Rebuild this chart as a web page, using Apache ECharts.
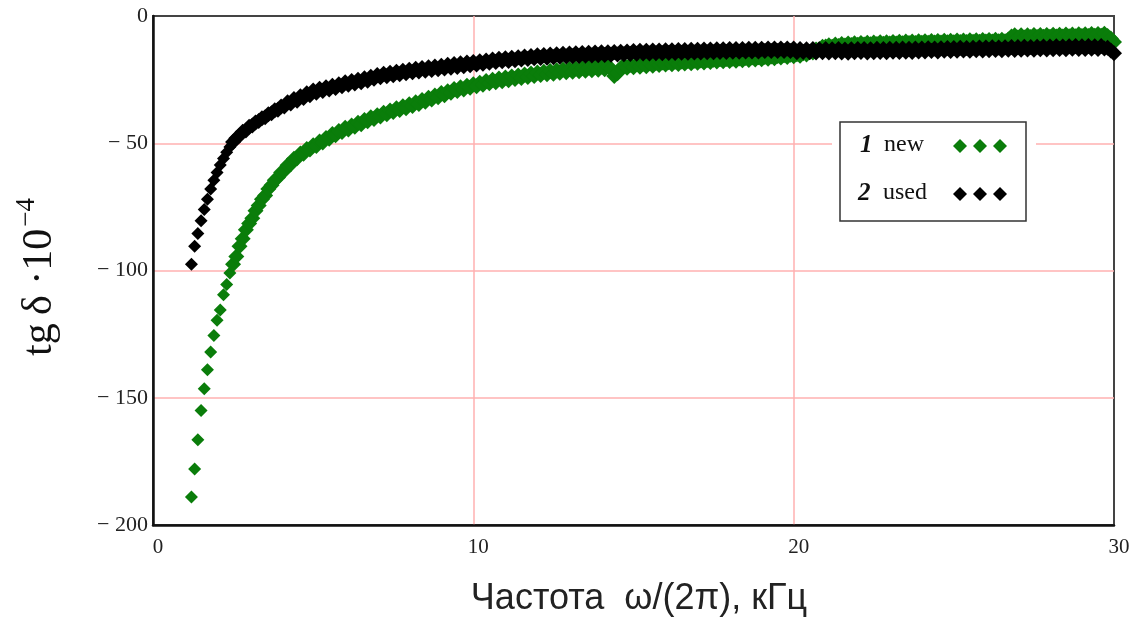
<!DOCTYPE html>
<html>
<head>
<meta charset="utf-8">
<script src="https://cdn.jsdelivr.net/npm/echarts@6/dist/echarts.min.js"></script>
<style>
  html, body { margin: 0; padding: 0; background: #fff; }
  #chart { width: 1141px; height: 619px; }
</style>
</head>
<body>
<div id="chart"></div>
<script>
'use strict';

// frequency, kHz
var freq = [
  1.2, 1.3, 1.4, 1.5, 1.6, 1.7, 1.8, 1.9, 2.0,
  2.1, 2.2, 2.3, 2.4, 2.5, 2.6, 2.7, 2.8, 2.9, 3.0,
  3.1, 3.2, 3.3, 3.4, 3.5, 3.6, 3.7, 3.8, 3.9, 4.0,
  4.1, 4.2, 4.3, 4.4, 4.5, 4.6, 4.7, 4.8, 4.9, 5.0,
  5.1, 5.2, 5.3, 5.4, 5.5, 5.6, 5.7, 5.8, 5.9, 6.0,
  6.1, 6.2, 6.3, 6.4, 6.5, 6.6, 6.7, 6.8, 6.9, 7.0,
  7.1, 7.2, 7.3, 7.4, 7.5, 7.6, 7.7, 7.8, 7.9, 8.0,
  8.1, 8.2, 8.3, 8.4, 8.5, 8.6, 8.7, 8.8, 8.9, 9.0,
  9.1, 9.2, 9.3, 9.4, 9.5, 9.6, 9.7, 9.8, 9.9, 10.0,
  10.1, 10.2, 10.3, 10.4, 10.5, 10.6, 10.7, 10.8, 10.9, 11.0,
  11.1, 11.2, 11.3, 11.4, 11.5, 11.6, 11.7, 11.8, 11.9, 12.0,
  12.1, 12.2, 12.3, 12.4, 12.5, 12.6, 12.7, 12.8, 12.9, 13.0,
  13.1, 13.2, 13.3, 13.4, 13.5, 13.6, 13.7, 13.8, 13.9, 14.0,
  14.1, 14.2, 14.3, 14.4, 14.5, 14.6, 14.7, 14.8, 14.9, 15.0,
  15.1, 15.2, 15.3, 15.4, 15.5, 15.6, 15.7, 15.8, 15.9, 16.0,
  16.1, 16.2, 16.3, 16.4, 16.5, 16.6, 16.7, 16.8, 16.9, 17.0,
  17.1, 17.2, 17.3, 17.4, 17.5, 17.6, 17.7, 17.8, 17.9, 18.0,
  18.1, 18.2, 18.3, 18.4, 18.5, 18.6, 18.7, 18.8, 18.9, 19.0,
  19.1, 19.2, 19.3, 19.4, 19.5, 19.6, 19.7, 19.8, 19.9, 20.0,
  20.1, 20.2, 20.3, 20.4, 20.5, 20.6, 20.7, 20.8, 20.9, 21.0,
  21.1, 21.2, 21.3, 21.4, 21.5, 21.6, 21.7, 21.8, 21.9, 22.0,
  22.1, 22.2, 22.3, 22.4, 22.5, 22.6, 22.7, 22.8, 22.9, 23.0,
  23.1, 23.2, 23.3, 23.4, 23.5, 23.6, 23.7, 23.8, 23.9, 24.0,
  24.1, 24.2, 24.3, 24.4, 24.5, 24.6, 24.7, 24.8, 24.9, 25.0,
  25.1, 25.2, 25.3, 25.4, 25.5, 25.6, 25.7, 25.8, 25.9, 26.0,
  26.1, 26.2, 26.3, 26.4, 26.5, 26.6, 26.7, 26.8, 26.9, 27.0,
  27.1, 27.2, 27.3, 27.4, 27.5, 27.6, 27.7, 27.8, 27.9, 28.0,
  28.1, 28.2, 28.3, 28.4, 28.5, 28.6, 28.7, 28.8, 28.9, 29.0,
  29.1, 29.2, 29.3, 29.4, 29.5, 29.6, 29.7, 29.8, 29.9, 30.0
];

// 1 new
var tgNew = [
  -189, -178, -166.5, -155, -146.5, -139, -132, -125.5, -119.5,
  -115.5, -109.5, -105.5, -101, -97.5, -94.5, -90.5, -87.5, -84, -81.5,
  -79.5, -76.5, -74.5, -72, -70.5, -68, -66.5, -64.5, -63.5, -61.5,
  -60.8, -58.6, -58.3, -56.1, -55.9, -54.0, -54.1, -52.3, -52.5, -50.8,
  -51.1, -49.3, -49.7, -47.9, -48.2, -46.4, -46.9, -45.2, -45.6, -43.9,
  -44.6, -43.0, -43.5, -41.9, -42.5, -40.9, -41.4, -39.8, -40.5, -39.0,
  -39.5, -38.0, -38.6, -37.1, -37.7, -36.2, -36.9, -35.5, -36.2, -34.7,
  -35.4, -33.9, -34.6, -33.0, -33.7, -32.1, -32.8, -31.2, -31.9, -30.3,
  -31.1, -29.6, -30.2, -28.7, -29.5, -28.0, -28.9, -27.4, -28.2, -26.8,
  -27.6, -26.2, -27.0, -25.5, -26.4, -25.0, -26.0, -24.6, -25.6, -24.2,
  -25.2, -23.8, -24.8, -23.4, -24.4, -23.0, -24.0, -22.6, -23.6, -22.2,
  -23.2, -21.9, -22.9, -21.6, -22.7, -21.3, -22.3, -21.0, -22.1, -20.8,
  -21.9, -20.6, -21.7, -20.4, -21.5, -20.2, -21.3, -20.0, -21.1, -19.8,
  -20.9, -19.7, -20.7, -23.6, -22.5, -20.5, -19.4, -20.3, -19.2, -20.1,
  -19.0, -19.9, -18.8, -19.7, -18.6, -19.5, -18.5, -19.3, -18.3, -19.1,
  -18.2, -19.0, -18.0, -18.9, -17.9, -18.7, -17.7, -18.6, -17.6, -18.4,
  -17.5, -18.3, -17.3, -18.1, -17.2, -17.9, -17.0, -17.8, -16.9, -17.7,
  -16.8, -17.6, -16.7, -17.4, -16.5, -17.3, -16.3, -17.1, -16.2, -17.0,
  -16.1, -16.8, -15.9, -16.6, -15.7, -16.3, -15.4, -16.1, -15.2, -15.8,
  -15.0, -15.6, -14.6, -15.1, -14.1, -14.3, -13.2, -13.1, -12.1, -12.0,
  -11.5, -12.1, -11.2, -11.8, -11.0, -11.6, -10.8, -11.4, -10.7, -11.3,
  -10.6, -11.2, -10.5, -11.1, -10.4, -11.0, -10.3, -10.9, -10.3, -10.8,
  -10.2, -10.8, -10.1, -10.7, -10.0, -10.6, -10.0, -10.6, -9.9, -10.5,
  -9.9, -10.5, -9.8, -10.4, -9.8, -10.4, -9.7, -10.3, -9.7, -10.3,
  -9.6, -10.2, -9.6, -10.2, -9.5, -10.1, -9.5, -10.1, -9.4, -10.0,
  -9.4, -10.0, -9.3, -9.9, -9.3, -9.9, -9.2, -8.1, -7.6, -8.4,
  -7.6, -8.4, -7.6, -8.3, -7.5, -8.3, -7.5, -8.2, -7.5, -8.2,
  -7.4, -8.1, -7.4, -8.1, -7.3, -8.0, -7.3, -8.0, -7.2, -7.9,
  -7.2, -7.9, -7.1, -7.8, -7.1, -7.8, -7.0, -7.9, -8.8, -10.2
];

// 2 used
var tgUsed = [
  -97.5, -90.5, -85.5, -80.5, -76, -72, -68, -64.5, -61.5,
  -58.5, -56, -53.5, -51.5, -49.5, -48, -47, -45.5, -45, -43.5,
  -43, -41.8, -41.3, -40.2, -39.8, -38.6, -38.2, -37, -36.8, -35.6,
  -35.6, -33.9, -34.4, -32.6, -33.3, -31.5, -32.2, -30.4, -31.1, -29.3,
  -30.2, -28.6, -29.5, -28.0, -28.9, -27.4, -28.3, -26.8, -27.6, -26.0,
  -27.0, -25.5, -26.5, -25.0, -26.0, -24.5, -25.4, -23.9, -24.7, -23.2,
  -24.1, -22.7, -23.7, -22.3, -23.3, -21.9, -22.9, -21.5, -22.5, -21.1,
  -22.1, -20.7, -21.8, -20.4, -21.5, -20.1, -21.2, -19.8, -20.9, -19.5,
  -20.6, -19.2, -20.3, -18.9, -20.0, -18.6, -19.7, -18.3, -19.4, -18.1,
  -19.1, -17.8, -18.8, -17.5, -18.4, -17.1, -18.1, -16.8, -17.8, -16.6,
  -17.7, -16.4, -17.4, -16.2, -17.1, -15.9, -16.9, -15.7, -16.6, -15.4,
  -16.5, -15.3, -16.4, -15.1, -16.2, -15.0, -16.0, -14.8, -15.9, -14.7,
  -15.8, -14.6, -15.7, -14.5, -15.6, -14.4, -15.5, -14.3, -15.4, -14.2,
  -15.3, -14.2, -15.2, -14.1, -15.1, -14.0, -15.0, -13.9, -14.9, -13.8,
  -14.8, -13.7, -14.7, -13.7, -14.7, -13.6, -14.6, -13.6, -14.6, -13.5,
  -14.5, -13.5, -14.5, -13.4, -14.4, -13.4, -14.4, -13.3, -14.3, -13.3,
  -14.3, -13.2, -14.2, -13.2, -14.2, -13.1, -14.1, -13.1, -14.1, -13.0,
  -14.0, -13.0, -14.0, -13.0, -13.9, -12.9, -13.9, -12.9, -13.9, -12.9,
  -13.8, -12.8, -13.8, -12.8, -13.8, -12.8, -13.8, -12.8, -13.8, -12.8,
  -14.2, -13.0, -14.1, -13.1, -14.2, -13.0, -14.3, -13.1, -14.2, -13.0,
  -14.3, -13.1, -14.2, -13.0, -14.3, -13.2, -14.4, -13.1, -14.2, -13.0,
  -14.1, -13.0, -14.3, -13.1, -14.2, -12.9, -14.1, -13.0, -14.2, -12.9,
  -14.0, -12.9, -14.1, -12.8, -14.0, -12.9, -14.1, -12.8, -13.9, -12.8,
  -13.9, -12.7, -13.8, -12.8, -13.9, -12.7, -13.7, -12.6, -13.8, -12.6,
  -13.7, -12.5, -13.6, -12.6, -13.7, -12.5, -13.5, -12.4, -13.6, -12.4,
  -13.5, -12.3, -13.4, -12.4, -13.5, -12.3, -13.3, -12.2, -13.4, -12.2,
  -13.3, -12.1, -13.2, -12.2, -13.3, -12.1, -13.1, -12.0, -13.2, -12.0,
  -13.1, -11.9, -13.0, -12.0, -13.1, -11.9, -12.9, -11.8, -13.0, -11.9,
  -13.0, -11.8, -12.9, -11.9, -13.0, -11.8, -12.8, -12.5, -13.6, -14.6
];

var xTicks = [0, 10, 20, 30];
var yTicks = [-200, -150, -100, -50, 0];

var serif = '"Liberation Serif", "DejaVu Serif", serif';
var green = '#0a7d0a';

function pairs(xs, ys) {
  var out = [];
  for (var i = 0; i < xs.length; i++) {
    out.push([xs[i], ys[i]]);
  }
  return out;
}

// the sparse low-frequency points are a bit smaller than the dense band
function markSize(d) {
  return d[0] < 2.5 ? 13 : 16;
}

function diamond(cx, cy, r, color) {
  return {
    type: 'polygon',
    z: 12,
    shape: { points: [[cx, cy - r], [cx + r, cy], [cx, cy + r], [cx - r, cy]] },
    style: { fill: color }
  };
}

function label(x, y, text, size, italicBold) {
  return {
    type: 'text', x: x, y: y, z: 12,
    style: {
      text: text,
      font: (italicBold ? 'italic bold ' : '') + size + 'px ' + serif,
      fill: '#111',
      verticalAlign: 'middle'
    }
  };
}

var option = {
  animation: false,
  backgroundColor: '#fff',
  grid: {
    left: 153,
    top: 16,
    width: 961,
    height: 509,
    show: true,
    borderColor: '#444',
    borderWidth: 2
  },
  xAxis: {
    type: 'value',
    min: xTicks[0],
    max: xTicks[xTicks.length - 1],
    interval: 10,
    axisLine: { onZero: false, lineStyle: { color: '#111', width: 2.5 } },
    axisTick: { show: false },
    axisLabel: {
      margin: 12,
      fontFamily: serif,
      fontSize: 21,
      color: '#222',
      padding: [0, 0, 0, 10]
    },
    splitLine: { showMinLine: false, showMaxLine: false, lineStyle: { color: '#ffb0b0', width: 1.5 } }
  },
  yAxis: {
    type: 'value',
    min: yTicks[0],
    max: yTicks[yTicks.length - 1],
    interval: 50,
    axisLine: { onZero: false, lineStyle: { color: '#111', width: 2.5 } },
    axisTick: { show: false },
    axisLabel: {
      margin: 5,
      fontFamily: serif,
      fontSize: 22,
      color: '#222',
      formatter: function (v) {
        return v === 0 ? '0' : '\u2212 ' + Math.abs(v);
      }
    },
    splitLine: { showMinLine: false, showMaxLine: false, lineStyle: { color: '#ffb0b0', width: 1.5 } }
  },
  series: [{
    name: 'new',
    type: 'scatter',
    data: pairs(freq, tgNew),
    symbol: 'diamond',
    symbolSize: markSize,
    itemStyle: { color: green, opacity: 1 }
  }, {
    name: 'used',
    type: 'scatter',
    data: pairs(freq, tgUsed),
    symbol: 'diamond',
    symbolSize: markSize,
    itemStyle: { color: '#000', opacity: 1 }
  }],
  graphic: [
    // legend box
    { type: 'rect', z: 10, shape: { x: 832, y: 126, width: 204, height: 92 }, style: { fill: '#fff' } },
    { type: 'rect', z: 10, shape: { x: 840, y: 122, width: 186, height: 99 }, style: { fill: '#fff', stroke: '#333', lineWidth: 1.5 } },
    label(860, 146, '1', 25, true),
    label(884, 145, 'new', 24, false),
    label(858, 194, '2', 25, true),
    label(883, 193, 'used', 24, false),
    diamond(960, 146, 7, green),
    diamond(980, 146, 7, green),
    diamond(1000, 146, 7, green),
    diamond(960, 194, 7, '#000'),
    diamond(980, 194, 7, '#000'),
    diamond(1000, 194, 7, '#000'),
    // axis titles
    {
      type: 'text', x: 40, y: 277, rotation: Math.PI / 2,
      style: {
        text: '{a|tg\u2009\u03b4 \u00b710}{b|\u22124}',
        align: 'center',
        verticalAlign: 'middle',
        fill: '#111',
        rich: {
          a: { fontFamily: serif, fontSize: 42, fill: '#111' },
          b: { fontFamily: serif, fontSize: 27, fill: '#111', padding: [0, 0, 26, 2] }
        }
      }
    },
    {
      type: 'text', x: 639, y: 599,
      style: {
        text: '\u0427\u0430\u0441\u0442\u043e\u0442\u0430  \u03c9/(2\u03c0), \u043a\u0413\u0446',
        font: '36px "Liberation Sans", Arial, sans-serif',
        fill: '#222',
        align: 'center',
        verticalAlign: 'middle'
      }
    }
  ]
};

var myChart = echarts.init(document.getElementById('chart'), null, { renderer: 'canvas' });
myChart.setOption(option);
</script>
</body>
</html>
